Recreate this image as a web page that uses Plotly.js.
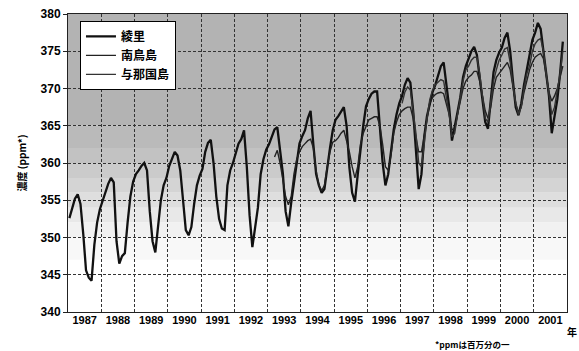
<!DOCTYPE html>
<html>
<head>
<meta charset="utf-8">
<script src="https://cdn.plot.ly/plotly-3.0.1.min.js"></script>
<style>html,body{margin:0;padding:0;background:#fff;}#chart{width:579px;height:351px;}</style>
</head>
<body>
<div id="chart"></div>
<script>
// Year categories (x axis bands)
const years = [1987,1988,1989,1990,1991,1992,1993,1994,1995,1996,1997,1998,1999,2000,2001];
const seriesNames = ["綾里", "南鳥島", "与那国島"];

// 綾里 monthly CO2 (ppm), Jan 1987 – Nov 2001
const ryoriStart = [1987, 1];
const ryori = [
  352.6,354.0,355.2,355.8,354.5,350.5,345.6,344.6,344.2,349.0,352.0,353.8,
  355.0,356.2,357.2,358.0,357.4,349.5,346.5,347.5,347.9,352.0,355.5,357.5,
  358.5,359.0,359.6,360.0,359.0,353.5,349.5,348.0,351.5,355.0,357.0,358.0,
  359.6,360.7,361.5,361.0,359.0,355.0,351.0,350.3,351.4,354.5,357.0,358.3,
  359.2,361.5,362.7,363.1,360.0,355.5,352.5,351.2,351.0,357.0,359.0,360.0,
  361.5,362.6,363.2,364.4,359.5,353.0,348.7,351.4,354.0,358.5,360.5,361.8,
  362.5,363.5,364.5,364.8,362.0,358.6,353.5,351.5,354.6,357.5,360.2,362.6,
  363.6,364.4,366.0,367.0,362.5,358.5,357.0,356.0,356.5,359.5,362.0,364.4,
  365.8,366.3,367.0,367.5,365.0,359.4,356.0,354.8,358.4,362.0,365.0,367.6,
  368.6,369.3,369.6,369.6,364.5,360.0,357.0,358.5,361.5,364.5,366.5,368.0,
  369.0,370.5,371.4,370.8,367.0,362.0,356.5,358.5,363.5,366.3,368.0,369.5,
  370.5,371.8,373.0,373.5,370.5,367.5,363.0,364.7,366.8,368.8,371.5,373.0,
  374.0,375.0,375.6,374.5,371.5,368.5,365.5,364.6,368.5,372.2,373.8,374.8,
  375.5,376.8,377.5,375.0,371.0,367.5,366.4,368.0,370.5,372.5,374.5,376.5,
  377.5,378.8,378.0,375.0,372.0,369.0,364.0,366.0,368.5,372.0,376.3
];

// 南鳥島 monthly CO2 (ppm), Mar 1993 – Nov 2001
const minamiStart = [1993, 3];
const minami = [
  360.8,361.7,360.0,357.7,355.5,354.4,355.5,358.5,360.5,361.5,
  362.2,362.6,363.0,363.2,362.0,359.0,357.0,356.3,357.0,359.5,361.5,362.8,
  363.0,363.4,364.0,364.4,363.0,361.5,359.5,358.0,359.5,362.5,364.0,365.0,
  365.8,366.0,366.2,366.2,365.0,362.5,359.5,359.0,361.0,364.0,365.5,366.5,
  367.0,367.3,367.5,367.5,366.0,363.5,361.5,361.5,363.5,366.0,368.0,368.8,
  369.2,369.4,369.5,369.3,368.0,366.5,364.5,364.5,366.5,368.5,370.0,371.0,
  371.5,371.8,372.3,372.3,371.0,369.0,367.0,366.0,367.5,370.0,371.5,372.0,
  372.5,373.0,373.5,372.5,370.0,368.0,366.8,367.5,369.5,371.0,372.5,373.5,
  374.2,374.5,374.7,374.0,371.5,369.5,368.3,369.0,370.0,371.5,373.0
];

// 与那国島 monthly CO2 (ppm), Jan 1997 – Nov 2001
const yonaguniStart = [1997, 1];
const yonaguni = [
  368.0,369.5,370.2,369.8,367.0,364.0,360.0,359.5,362.5,366.0,368.5,369.8,
  370.5,370.8,371.2,371.0,369.0,366.5,363.5,364.0,366.5,369.0,371.0,372.5,
  373.0,373.8,374.2,374.2,372.0,369.0,366.0,365.5,368.0,371.0,372.5,373.8,
  374.5,375.3,375.5,373.5,370.5,368.0,366.5,367.5,370.0,372.0,373.0,375.0,
  376.0,376.5,376.7,375.0,372.0,369.5,366.5,367.5,369.5,372.0,375.0
];

function monthX(start, n) {
  const out = [];
  for (let i = 0; i < n; i++) {
    const m = start[1] - 1 + i;
    out.push(start[0] + Math.floor(m / 12) + ((m % 12) + 0.5) / 12);
  }
  return out;
}

const traces = [
  {x: monthX(ryoriStart, ryori.length), y: ryori, name: seriesNames[0], type: 'scatter', mode: 'lines',
   line: {color: '#111', width: 2.3}},
  {x: monthX(minamiStart, minami.length), y: minami, name: seriesNames[1], type: 'scatter', mode: 'lines',
   line: {color: '#222', width: 1.4}},
  {x: monthX(yonaguniStart, yonaguni.length), y: yonaguni, name: seriesNames[2], type: 'scatter', mode: 'lines',
   line: {color: '#333', width: 1.4}},
  // empty trace that carries the year-label axis
  {x: [], y: [], xaxis: 'x2', yaxis: 'y', type: 'scatter', mode: 'lines', showlegend: false, hoverinfo: 'skip'}
];

// background shading bands (style only)
const bands = [
  [365, 380, '#b3b3b3'], [362, 365, '#bababa'], [360, 362, '#c2c2c2'],
  [358, 360, '#cbcbcb'], [356, 358, '#d4d4d4'], [354, 356, '#dedede'],
  [352, 354, '#e8e8e8'], [350, 352, '#f1f1f1'], [347, 350, '#f8f8f8']
];
const shapes = bands.map(b => ({type: 'rect', xref: 'x', yref: 'y', x0: 1987, x1: 2002, y0: b[0], y1: b[1],
  fillcolor: b[2], line: {width: 0}, layer: 'below'}));

const tickFont = {family: 'Liberation Sans, Arial, sans-serif', size: 11, color: '#000', weight: 'bold'};
const yTickFont = {family: 'Liberation Sans, Arial, sans-serif', size: 12, color: '#000', weight: 'bold'};
const cjk = 'Noto Sans CJK JP, sans-serif';
const gridDash = '3px,2px';

const layout = {
  width: 579, height: 351,
  margin: {l: 68, r: 12, t: 14, b: 39},
  paper_bgcolor: '#fff', plot_bgcolor: 'rgba(0,0,0,0)',
  showlegend: true,
  legend: {x: 0.024, y: 0.977, xanchor: 'left', yanchor: 'top', bgcolor: '#fff',
    bordercolor: '#000', borderwidth: 1, font: {family: cjk, size: 12, color: '#000', weight: 'bold'},
    tracegroupgap: 0, itemwidth: 30},
  xaxis: {range: [1987, 2002], tick0: 1987, dtick: 1, showticklabels: false,
    ticks: '', showgrid: true, gridcolor: '#333', gridwidth: 1, griddash: gridDash, zeroline: false,
    showline: true, linecolor: '#222', linewidth: 1, mirror: true},
  xaxis2: {range: [1987, 2002], overlaying: 'x', anchor: 'y', side: 'bottom',
    tickvals: years.map(y => y + 0.5), ticktext: years.map(String),
    ticks: '', showgrid: false, zeroline: false, showline: false, tickfont: tickFont},
  yaxis: {range: [340, 380], dtick: 5, tick0: 340, ticks: 'outside', ticklen: 4, tickcolor: '#222',
    showgrid: true, gridcolor: '#333', gridwidth: 1, griddash: gridDash, zeroline: false,
    tickfont: yTickFont, showline: true, linecolor: '#222', linewidth: 1, mirror: true,
    title: {text: '濃度 (ppm*)', font: {family: cjk, size: 10, color: '#000', weight: 'bold'}, standoff: 12}},
  shapes: shapes,
  annotations: [
    {text: '年', xref: 'paper', yref: 'paper', x: 1.024, y: -0.035, xanchor: 'right', yanchor: 'top',
     showarrow: false, font: {family: cjk, size: 10, color: '#000', weight: 'bold'}},
    {text: '*ppmは百万分の一', xref: 'paper', yref: 'paper', x: 0.81, y: -0.107, xanchor: 'center', yanchor: 'middle',
     showarrow: false, font: {family: cjk, size: 8.5, color: '#000', weight: 'bold'}}
  ]
};

Plotly.newPlot('chart', traces, layout, {displayModeBar: false, staticPlot: true});
</script>
</body>
</html>
